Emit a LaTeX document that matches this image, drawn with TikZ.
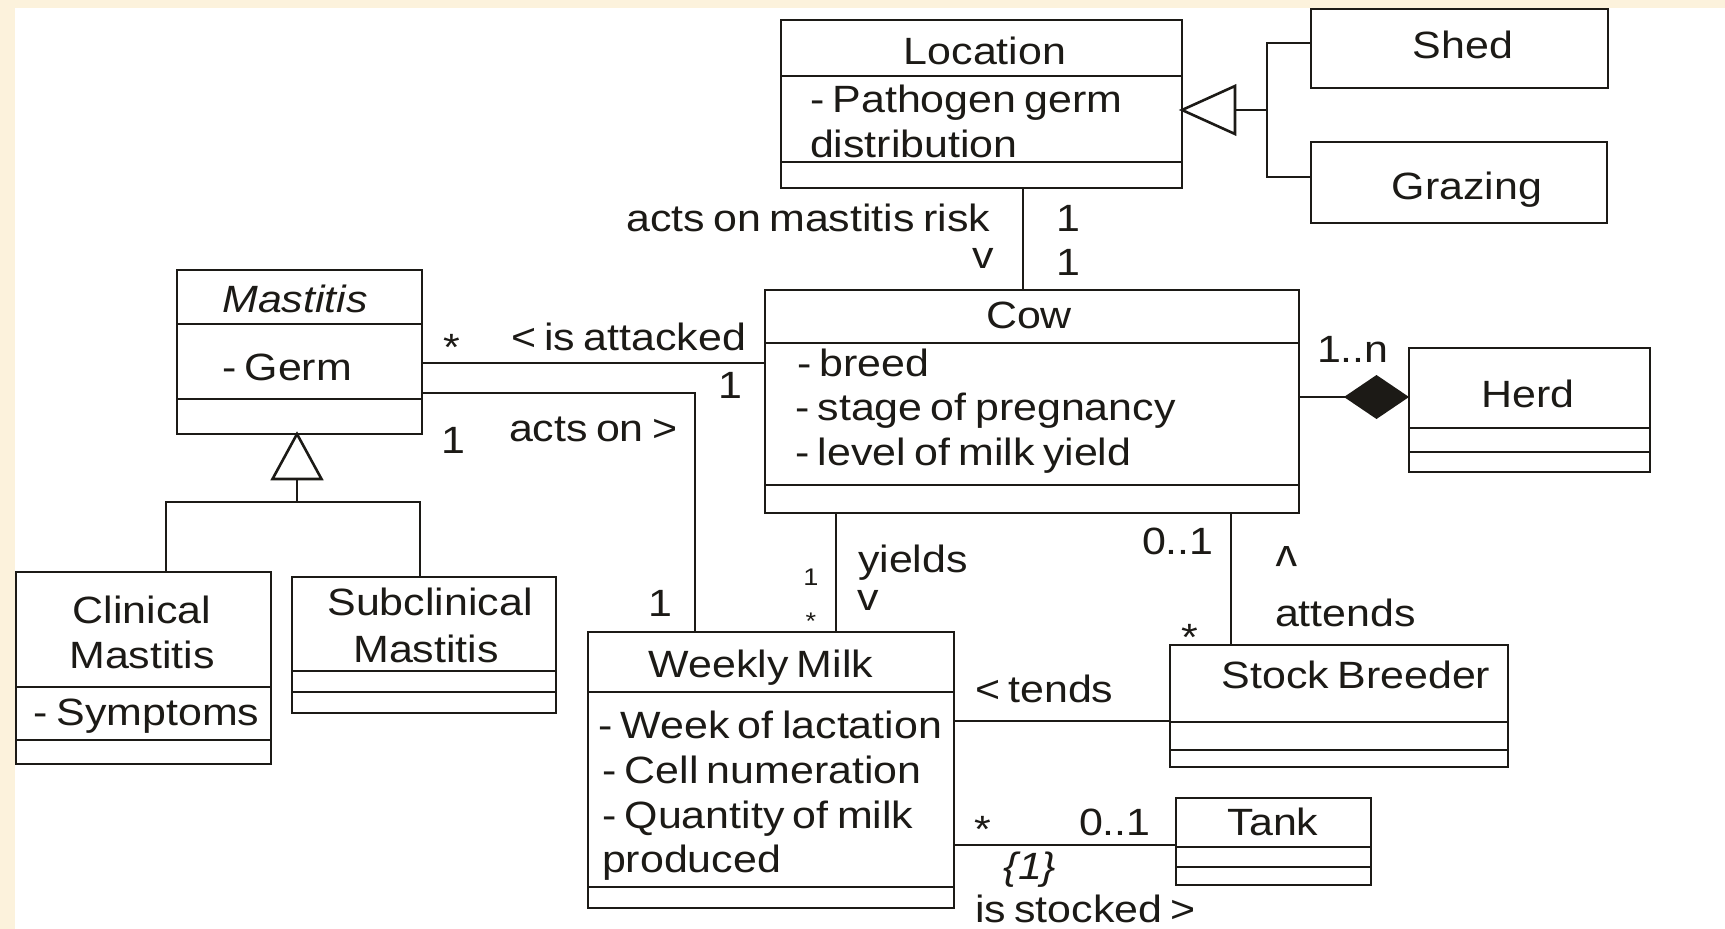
\documentclass[tikz,border=0pt]{standalone}
\usepackage{fontspec}
\setmainfont{Liberation Sans}[FakeStretch=1.13,WordSpace=0.7]
\usetikzlibrary{calc}
\definecolor{cream}{RGB}{252,242,220}
\definecolor{ink}{RGB}{28,26,22}
\tikzset{
  cls/.style={draw=ink, line width=2.6pt, fill=white, inner sep=0pt, outer sep=0pt, anchor=north west, rectangle},
  conn/.style={draw=ink, line width=2.6pt},
  txt/.style={inner sep=0pt, outer sep=0pt, anchor=base, text=ink},
  txtw/.style={txt, anchor=base west},
  txte/.style={txt, anchor=base east},
  txtc/.style={txt, anchor=center},
  small/.style={font=\fontsize{24}{28}\selectfont},
}
\begin{document}
\begin{tikzpicture}[x=1pt,y=-1pt,font=\fontsize{38}{45}\selectfont]
\useasboundingbox (0,0) rectangle (1725,929);
\fill[cream] (0,0) rectangle (1725,929);
\fill[white] (15,8) rectangle (1725,929);

% ---------- class boxes ----------
\node[cls, minimum width=245pt, minimum height=164pt] (mast) at (177,270) {};
\node[cls, minimum width=401pt, minimum height=168pt] (loc) at (781,20) {};
\node[cls, minimum width=297pt, minimum height=79pt] (shed) at (1311,9) {};
\node[cls, minimum width=296pt, minimum height=81pt] (graz) at (1311,142) {};
\node[cls, minimum width=534pt, minimum height=223pt] (cow) at (765,290) {};
\node[cls, minimum width=241pt, minimum height=124pt] (herd) at (1409,348) {};
\node[cls, minimum width=255pt, minimum height=192pt] (clin) at (16,572) {};
\node[cls, minimum width=264pt, minimum height=136pt] (sub) at (292,577) {};
\node[cls, minimum width=366pt, minimum height=276pt] (week) at (588,632) {};
\node[cls, minimum width=338pt, minimum height=122pt] (stock) at (1170,645) {};
\node[cls, minimum width=195pt, minimum height=87pt] (tank) at (1176,798) {};

% ---------- compartment dividers ----------
\draw[conn] (mast.west |- 0,324) -- (mast.east |- 0,324);
\draw[conn] (mast.west |- 0,399) -- (mast.east |- 0,399);
\draw[conn] (loc.west |- 0,76) -- (loc.east |- 0,76);
\draw[conn] (loc.west |- 0,162) -- (loc.east |- 0,162);
\draw[conn] (cow.west |- 0,343) -- (cow.east |- 0,343);
\draw[conn] (cow.west |- 0,485) -- (cow.east |- 0,485);
\draw[conn] (herd.west |- 0,428) -- (herd.east |- 0,428);
\draw[conn] (herd.west |- 0,452) -- (herd.east |- 0,452);
\draw[conn] (clin.west |- 0,687) -- (clin.east |- 0,687);
\draw[conn] (clin.west |- 0,740) -- (clin.east |- 0,740);
\draw[conn] (sub.west |- 0,671) -- (sub.east |- 0,671);
\draw[conn] (sub.west |- 0,692) -- (sub.east |- 0,692);
\draw[conn] (week.west |- 0,692) -- (week.east |- 0,692);
\draw[conn] (week.west |- 0,887) -- (week.east |- 0,887);
\draw[conn] (stock.west |- 0,722) -- (stock.east |- 0,722);
\draw[conn] (stock.west |- 0,750) -- (stock.east |- 0,750);
\draw[conn] (tank.west |- 0,847) -- (tank.east |- 0,847);
\draw[conn] (tank.west |- 0,867) -- (tank.east |- 0,867);

% ---------- class texts ----------
\node[txt] (mastN) at (295,312) {\itshape Mastitis};
\node[txtw] (mastA) at (222,380) {- Germ};
\node[txt] (locN) at (985,64) {Location};
\node[txtw] (locA1) at (810,112) {- Pathogen germ};
\node[txtw] (locA2) at (810,157) {distribution};
\node[txt] (shedN) at (1463,58) {Shed};
\node[txt] (grazN) at (1467,199) {Grazing};
\node[txt] (cowN) at (1029,328) {Cow};
\node[txtw] (cowA1) at (797,376) {- breed};
\node[txtw] (cowA2) at (795,420) {- stage of pregnancy};
\node[txtw] (cowA3) at (795,465) {- level of milk yield};
\node[txt] (herdN) at (1528,407) {Herd};
\node[txt] (clinN1) at (142,623) {Clinical};
\node[txt] (clinN2) at (142,668) {Mastitis};
\node[txtw] (clinA) at (34,725) {- Symptoms};
\node[txt] (subN1) at (430,615) {Subclinical};
\node[txt] (subN2) at (426,662) {Mastitis};
\node[txt] (weekN) at (761,677) {Weekly Milk};
\node[txtw] (weekA1) at (598,738) {- Week of lactation};
\node[txtw] (weekA2) at (602,783) {- Cell numeration};
\node[txtw] (weekA3) at (602,828) {- Quantity of milk};
\node[txtw] (weekA4) at (602,872) {produced};
\node[txt] (stockN) at (1356,688) {Stock Breeder};
\node[txt] (tankN) at (1273,835) {Tank};

% ---------- connectors ----------
% is attacked
\draw[conn] (mast.east |- 0,363) -- (cow.west |- 0,363);
% acts on
\draw[conn] (mast.east |- 0,393) -| (week.north -| 695,0);
% acts on mastitis risk
\draw[conn] (loc.south -| 1023,0) -- (cow.north -| 1023,0);
% generalisation Shed / Grazing -> Location
\coordinate (gj) at (1267,110);
\draw[conn] (shed.west |- 0,43) -- (1267,43) -- (1267,177) -- (graz.west |- 0,177);
\draw[conn] (gj) -- (1235,110);
\draw[conn, fill=white] (loc.east |- 0,110) -- (1235,86) -- (1235,134) -- cycle;
% composition Cow - Herd
\draw[conn] (cow.east |- 0,397) -- (herd.west |- 0,397);
\fill[ink] (herd.west |- 0,397) -- (1376.5,375) -- (1344,397) -- (1376.5,419) -- cycle;
% generalisation Clinical / Subclinical -> Mastitis
\coordinate (mj) at (297,502);
\draw[conn] (clin.north -| 166,0) -- (166,502) -- (420,502) -- (sub.north -| 420,0);
\draw[conn] (mj) -- (297,479);
\draw[conn, fill=white] (mast.south -| 297,0) -- (272.5,479) -- (321.5,479) -- cycle;
% yields
\draw[conn] (cow.south -| 836,0) -- (week.north -| 836,0);
% attends
\draw[conn] (cow.south -| 1231,0) -- (stock.north -| 1231,0);
% tends
\draw[conn] (week.east |- 0,721) -- (stock.west |- 0,721);
% is stocked
\draw[conn] (week.east |- 0,845) -- (tank.west |- 0,845);

% ---------- connector labels ----------
\node[txt] (m1) at (452,360) {*};
\node[txtw] (attk) at (511,350) {< is attacked};
\node[txtc] (m2) at (730,385) {1};
\node[txtc] (m3) at (453,440) {1};
\node[txtw] (actson) at (509,441) {acts on >};
\node[txtc] (m4) at (660,603) {1};
\node[txte] (risk) at (990,231) {acts on mastitis risk};
\node[txtc] (riskv) at (983,258) {v};
\node[txtc] (m5) at (1068,218) {1};
\node[txtc] (m6) at (1068,262) {1};
\node[txtw] (m7) at (1317,362) {1..n};
\node[txtc, small] (m8) at (811,577) {1};
\node[txt, small] (m9) at (811,629) {*};
\node[txtw] (yld) at (858,572) {yields};
\node[txtc] (yldv) at (868,600) {v};
\node[txtw] (m10) at (1142,554) {0..1};
\node[txtc, rotate=180] (attup) at (1287,557) {v};
\node[txtw] (att) at (1275,626) {attends};
\node[txt] (m11) at (1190,650) {*};
\node[txtw] (tnd) at (975,702) {< tends};
\node[txt] (m12) at (983,842) {*};
\node[txtw] (m13) at (1079,835) {0..1};
\node[txtc] (cons) at (1030,870) {\itshape \{1\}};
\node[txtw] (stk) at (975,922) {is stocked >};
\end{tikzpicture}
\end{document}
